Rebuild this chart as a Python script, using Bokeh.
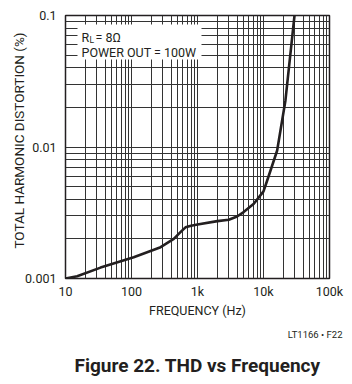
from bokeh.plotting import figure
from bokeh.models import FixedTicker, CustomJSTickFormatter, BoxAnnotation, Label, Range1d, Title
from bokeh.embed import file_html
from bokeh.resources import INLINE

# ---- data ----
freq_hz = [10, 15, 34, 108, 276, 437, 552, 658, 800, 1000, 2000, 2980, 3980, 5000,
           7130, 10000, 11370, 13500, 16100, 21500, 29500]
thd_pct = [0.001, 0.00104, 0.00121, 0.00145, 0.00173, 0.002, 0.00225, 0.00245, 0.00252,
           0.00257, 0.00273, 0.0028, 0.00296, 0.0032, 0.0037, 0.0046, 0.00556, 0.0072,
           0.0094, 0.0226, 0.1]

x_ticks = [10, 100, 1000, 10000, 100000]
x_tick_labels = ["10", "100", "1k", "10k", "100k"]
y_ticks = [0.001, 0.01, 0.1]
y_tick_labels = ["0.001", "0.01", "0.1"]

x_minor = [m * 10 ** k for k in range(1, 5) for m in range(2, 10)]
y_minor = [m * 10.0 ** k for k in range(-3, -1) for m in range(2, 10)]

FONT = "Roboto"
INK = "#231f20"

p = figure(width=352, height=384, x_axis_type="log", y_axis_type="log",
           x_range=Range1d(10, 100000), y_range=Range1d(0.001, 0.1),
           output_backend="svg", toolbar_location=None)
p.min_border_left = 65
p.min_border_right = 23
p.min_border_top = 15
p.min_border_bottom = 106
p.background_fill_color = "white"
p.border_fill_color = "white"
p.outline_line_color = INK
p.outline_line_width = 1.5

p.xaxis.ticker = FixedTicker(ticks=x_ticks, minor_ticks=x_minor)
p.yaxis.ticker = FixedTicker(ticks=y_ticks, minor_ticks=y_minor)
p.xaxis.formatter = CustomJSTickFormatter(args=dict(tv=x_ticks, tl=x_tick_labels),
    code="const i = tv.indexOf(tick); return i >= 0 ? tl[i] : '';")
p.yaxis.formatter = CustomJSTickFormatter(args=dict(tv=y_ticks, tl=y_tick_labels),
    code="const i = tv.indexOf(tick); return i >= 0 ? tl[i] : '';")

for ax in (p.xaxis[0], p.yaxis[0]):
    ax.axis_line_color = None
    ax.major_tick_line_color = None
    ax.minor_tick_line_color = None
    ax.major_tick_out = 0
    ax.major_tick_in = 0
    ax.minor_tick_out = 0
    ax.minor_tick_in = 0
    ax.major_label_text_font = FONT
    ax.major_label_text_font_size = "12.5px"
    ax.major_label_text_color = INK
p.xaxis.major_label_standoff = 5
p.yaxis.major_label_standoff = 9

p.xaxis.axis_label = "FREQUENCY (Hz)"
p.xaxis.axis_label_text_font = FONT
p.xaxis.axis_label_text_font_size = "12.5px"
p.xaxis.axis_label_text_font_style = "normal"
p.xaxis.axis_label_text_color = INK
p.xaxis.axis_label_standoff = 1

for g in (p.xgrid[0], p.ygrid[0]):
    g.grid_line_color = "#333333"
    g.grid_line_width = 1
    g.minor_grid_line_color = "#333333"
    g.minor_grid_line_width = 1

p.line(freq_hz, thd_pct, line_color=INK, line_width=2.6, line_join="round", line_cap="round")

# white box behind the conditions text
p.add_layout(BoxAnnotation(left=77, right=201, top=24, bottom=59,
                           left_units="canvas", right_units="canvas",
                           top_units="canvas", bottom_units="canvas",
                           fill_color="white", fill_alpha=1.0, line_color=None,
                           level="annotation"))

def lab(x, y, text, size):
    p.add_layout(Label(x=x, y=y, x_units="canvas", y_units="canvas", text=text,
                       text_font=FONT, text_font_size=size, text_color=INK,
                       text_align="left", text_baseline="alphabetic"))

lab(81, 36.5, "R", "12.5px")
lab(89, 39.5, "L", "8.5px")
lab(95, 36.5, "= 8Ω", "12.5px")
lab(81, 51.5, "POWER OUT = 100W", "12.5px")

p.add_layout(Title(text="TOTAL HARMONIC DISTORTION (%)", align="left", offset=30,
                   text_font=FONT, text_font_size="13.5px", text_font_style="normal",
                   text_color=INK, standoff=-8), "left")
p.add_layout(Title(text="LT1166 • F22", align="right", offset=-13,
                   text_font=FONT, text_font_size="9.5px", text_font_style="normal",
                   text_color=INK, standoff=12), "below")
p.add_layout(Title(text="Figure 22. THD vs Frequency", align="center",
                   text_font=FONT, text_font_size="19px", text_font_style="bold",
                   text_color=INK, standoff=13), "below")

open("out.html", "w").write(file_html(p, INLINE))
